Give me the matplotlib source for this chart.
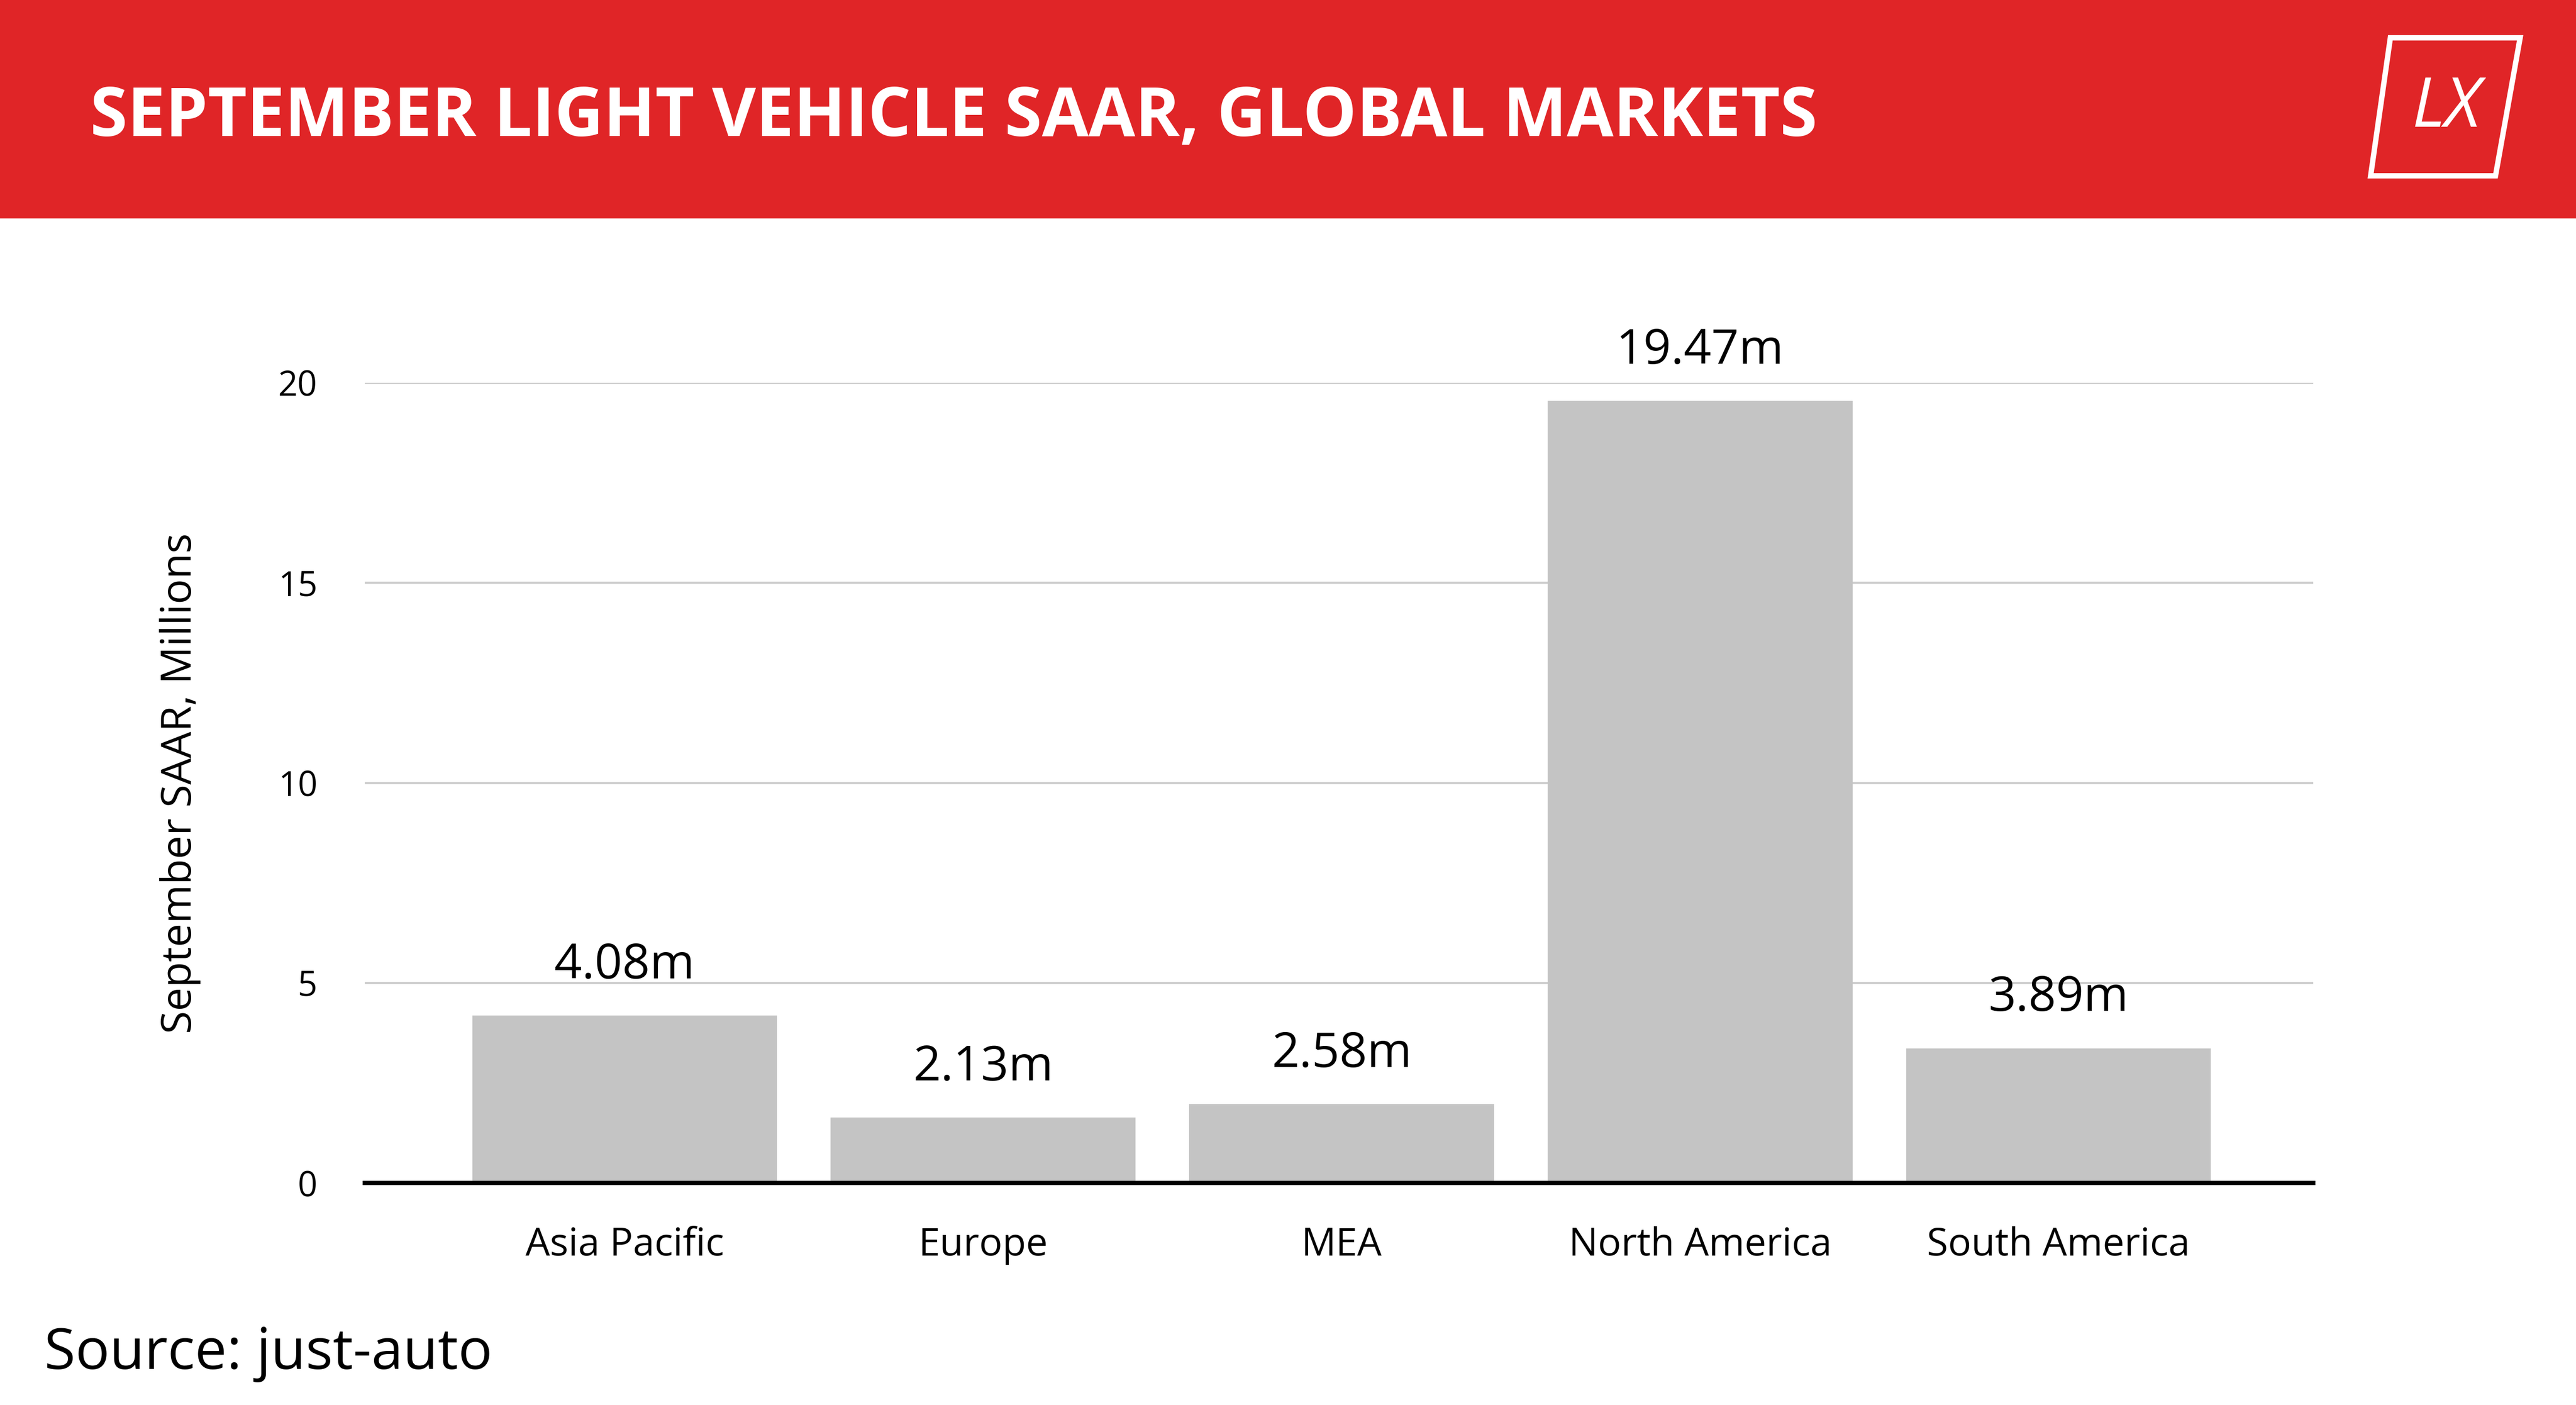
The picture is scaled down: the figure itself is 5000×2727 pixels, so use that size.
import matplotlib.pyplot as plt
from matplotlib.patches import Polygon, Rectangle

plt.rcParams['font.family'] = ['Open Sans', 'DejaVu Sans']

regions = ["Asia Pacific", "Europe", "MEA", "North America", "South America"]
bar_heights = [4.19, 1.64, 1.97, 19.55, 3.37]
value_labels = ["4.08m", "2.13m", "2.58m", "19.47m", "3.89m"]

W, H = 1568, 855
fig = plt.figure(figsize=(5000 / 300, 2727 / 300), dpi=300)
fig.patch.set_facecolor("white")

def fx(x):
    return x / W

def fy(y):
    return 1 - y / H

# red header band
fig.patches.append(Rectangle((0, fy(133)), 1, 133 / H, transform=fig.transFigure,
                             facecolor="#E02527", edgecolor="none", zorder=0))
fig.text(fx(55), fy(72), "SEPTEMBER LIGHT VEHICLE SAAR, GLOBAL MARKETS",
         color="white", fontsize=31.5, fontweight="bold", va="center", ha="left")
# logo
pts = [(fx(1455), fy(23)), (fx(1534), fy(23)), (fx(1519), fy(107)), (fx(1443), fy(107))]
fig.patches.append(Polygon(pts, closed=True, transform=fig.transFigure,
                           fill=False, edgecolor="white", linewidth=2.5))
fig.text(fx(1489), fy(66), "LX", color="white", fontsize=32, style="italic",
         ha="center", va="center")

ax = fig.add_axes([fx(222), fy(720), (1408 - 222) / W, (720 - 233) / H])
x = range(len(regions))
ax.bar(x, bar_heights, width=0.85, color="#C4C4C4", zorder=2)
for i, (h, lab) in enumerate(zip(bar_heights, value_labels)):
    ax.text(i, h + 0.65, lab, ha="center", va="bottom", fontsize=22.5, clip_on=False)

ax.set_xlim(-0.725, 4.71)
ax.set_ylim(0, 20)
ax.set_yticks([0, 5, 10, 15, 20])
ax.yaxis.grid(True, color="#CCCCCC", linewidth=1)
ax.set_axisbelow(True)
ax.set_xticks(list(x))
ax.set_xticklabels(regions, fontsize=18)
ax.tick_params(axis="y", labelsize=16, length=0, pad=22)
ax.tick_params(axis="x", length=0, pad=20)
for s in ["top", "right", "left"]:
    ax.spines[s].set_visible(False)
ax.spines["bottom"].set_linewidth(2)
ax.set_ylabel("September SAAR, Millions", fontsize=19.5, labelpad=36)

fig.text(fx(27), fy(824), "Source: just-auto", fontsize=26.5, ha="left", va="center")

fig.savefig("out.png", dpi=300)
